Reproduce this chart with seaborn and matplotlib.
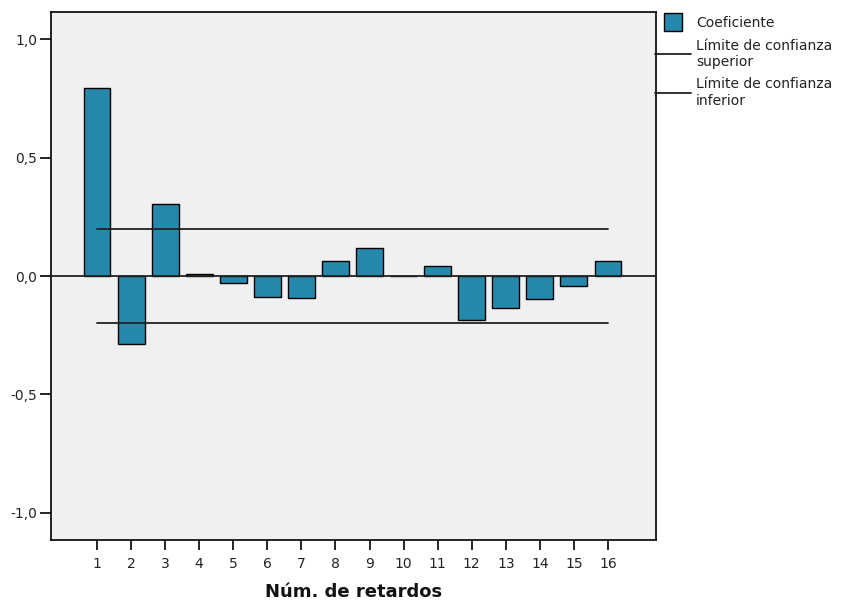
import matplotlib
matplotlib.use("Agg")
import matplotlib.pyplot as plt
import seaborn as sns
import pandas as pd
from matplotlib.lines import Line2D

lags = [str(i) for i in range(1, 17)]
coeficiente = [0.793, -0.287, 0.304, 0.008, -0.030, -0.089, -0.093, 0.063,
               0.118, 0.002, 0.042, -0.186, -0.135, -0.097, -0.042, 0.063]
limite_superior = [0.20] * 16
limite_inferior = [-0.20] * 16
yticks = [-1.0, -0.5, 0.0, 0.5, 1.0]
ytick_labels = ["-1,0", "-0,5", "0,0", "0,5", "1,0"]

bar_color = "#2589AB"

sns.set_theme(style="white")
plt.rcParams["font.family"] = ["DejaVu Sans"]

fig = plt.figure(figsize=(8.42, 6.03), dpi=100)
ax = fig.add_axes([51/842, 1-540/603, (656-51)/842, (540-12)/603])
ax.set_facecolor("#F0F0F0")

df = pd.DataFrame({"lag": lags, "coef": coeficiente})
sns.barplot(data=df, x="lag", y="coef", color=bar_color, saturation=1,
            width=0.79, edgecolor="black", linewidth=1.0, ax=ax, zorder=2)

pos = list(range(len(lags)))
ax.plot(pos, limite_superior, color="#222222", lw=1.3, zorder=3)
ax.plot(pos, limite_inferior, color="#222222", lw=1.3, zorder=3)
ax.axhline(0, color="#222222", lw=1.3, zorder=3)

ax.set_xlim(-1.35, 16.41)
ax.set_ylim(-1.114, 1.114)
ax.set_yticks(yticks)
ax.set_yticklabels(ytick_labels)
for s in ax.spines.values():
    s.set_color("black")
    s.set_linewidth(1.2)
ax.tick_params(axis="both", which="both", direction="out", width=1.2,
               color="black", labelsize=10, labelcolor="#222222", left=True, bottom=True)
ax.tick_params(axis="y", length=8, pad=2)
ax.tick_params(axis="x", length=7, pad=5)
ax.set_ylabel("")
ax.set_xlabel("Núm. de retardos", fontsize=13, fontweight="bold", color="#111111", labelpad=9)

handles = [
    Line2D([], [], marker="s", linestyle="none", markersize=13, markerfacecolor=bar_color,
           markeredgecolor="black", markeredgewidth=1.0),
    Line2D([], [], color="#222222", lw=1.3),
    Line2D([], [], color="#222222", lw=1.3),
]
labels = ["Coeficiente", "Límite de confianza\nsuperior", "Límite de confianza\ninferior"]
fig.legend(handles, labels, loc="upper left", bbox_to_anchor=(655/842, 1-16/603),
           frameon=False, fontsize=10, handlelength=2.6, handletextpad=0.35,
           borderaxespad=0, borderpad=0, labelspacing=0.62, labelcolor="#222222")

fig.savefig("out.png", dpi=100, facecolor="white")
